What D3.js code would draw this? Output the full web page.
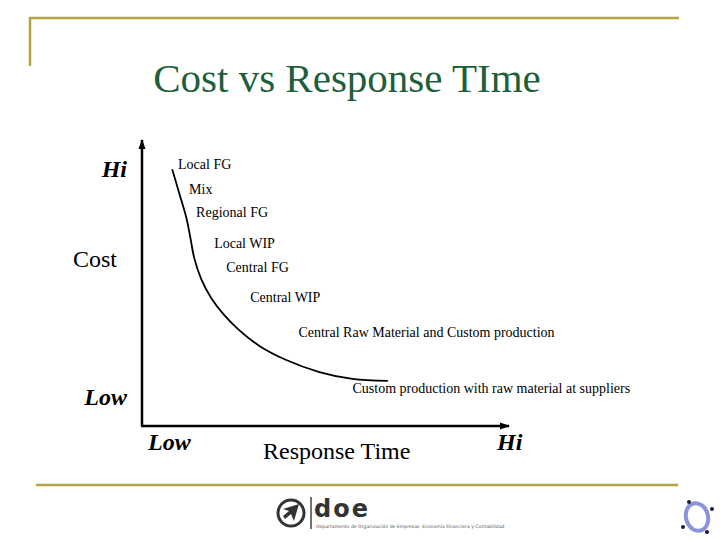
<!DOCTYPE html>
<html>
<head>
<meta charset="utf-8">
<script src="https://cdn.jsdelivr.net/npm/d3@7"></script>
<style>
  html, body { margin: 0; padding: 0; background: #ffffff; }
  svg { display: block; }
</style>
</head>
<body>
<svg id="chart" width="720" height="540"></svg>
<script>
// ---- data ----
const chartTitle = "Cost vs Response TIme";
const xAxisTitle = "Response Time";
const yAxisTitle = "Cost";
const xTickLabels = ["Low", "Hi"];
const yTickLabels = ["Low", "Hi"];
// trade-off curve (response time, cost) in 0-100 units
const curveX = [8.2, 10.1, 12.0, 13.1, 14.2, 16.1, 18.8, 22.3, 26.4, 31.9, 39.2, 48.2, 57.2, 66.8];
const curveY = [89.5, 81.2, 72.8, 65.9, 58.5, 51.2, 44.6, 38.7, 33.4, 27.9, 23.0, 18.8, 16.4, 15.7];
// strategy annotations along the curve
const strategies = ["Local FG", "Mix", "Regional FG", "Local WIP", "Central FG", "Central WIP",
  "Central Raw Material and Custom production", "Custom production with raw material at suppliers"];
const strategyX = [9.8, 12.8, 14.7, 19.6, 22.9, 29.4, 42.5, 57.2];
const strategyY = [89.5, 80.8, 72.8, 62.0, 53.7, 43.2, 31.0, 11.5];

// ---- drawing ----
const svg = d3.select("#chart");
const frame = "#b5a345";
const serif = "'Liberation Serif', 'Times New Roman', serif";

// slide frame
svg.append("line").attr("x1", 29).attr("x2", 679).attr("y1", 18).attr("y2", 18)
  .attr("stroke", frame).attr("stroke-width", 2.5);
svg.append("line").attr("x1", 30).attr("x2", 30).attr("y1", 17).attr("y2", 66)
  .attr("stroke", frame).attr("stroke-width", 2.5);
svg.append("line").attr("x1", 36).attr("x2", 678).attr("y1", 485).attr("y2", 485)
  .attr("stroke", frame).attr("stroke-width", 2.5);

// title
svg.append("text").attr("x", 347).attr("y", 92).attr("text-anchor", "middle")
  .attr("font-family", serif).attr("font-size", 41).attr("fill", "#1e5e3b")
  .text(chartTitle);

const x = d3.scaleLinear().domain([0, 100]).range([142, 510]);
const y = d3.scaleLinear().domain([0, 100]).range([426, 139]);

const defs = svg.append("defs");
defs.append("marker").attr("id", "arrow").attr("viewBox", "0 0 10 10")
  .attr("refX", 9).attr("refY", 5).attr("markerWidth", 4).attr("markerHeight", 4)
  .attr("markerUnits", "strokeWidth").attr("orient", "auto")
  .append("path").attr("d", "M0,1.5 L10,5 L0,8.5 Z").attr("fill", "#000");

// axes
svg.append("line").attr("x1", x(0)).attr("y1", y(0)).attr("x2", x(0)).attr("y2", y(100) + 1)
  .attr("stroke", "#000").attr("stroke-width", 2.5).attr("marker-end", "url(#arrow)");
svg.append("line").attr("x1", x(0) - 1).attr("y1", y(0)).attr("x2", x(100) - 1).attr("y2", y(0))
  .attr("stroke", "#000").attr("stroke-width", 2.5).attr("marker-end", "url(#arrow)");

// axis titles
svg.append("text").attr("x", 73).attr("y", 267).attr("font-family", serif)
  .attr("font-size", 24).attr("fill", "#000").text(yAxisTitle);
svg.append("text").attr("x", 263).attr("y", 459).attr("font-family", serif)
  .attr("font-size", 24).attr("fill", "#000").text(xAxisTitle);

// end labels
const yTickPos = [0, 100];
const xTickPos = [0, 100];
svg.selectAll("text.ytick").data(yTickLabels).join("text").attr("class", "ytick")
  .attr("x", 127).attr("y", (d, i) => y(yTickPos[i]) + (i === 0 ? -21 : 38))
  .attr("text-anchor", "end").attr("font-family", serif).attr("font-size", 24)
  .attr("font-weight", "bold").attr("font-style", "italic").text(d => d);
svg.selectAll("text.xtick").data(xTickLabels).join("text").attr("class", "xtick")
  .attr("x", (d, i) => x(xTickPos[i]) + (i === 0 ? 6 : -13)).attr("y", 450)
  .attr("font-family", serif).attr("font-size", 24)
  .attr("font-weight", "bold").attr("font-style", "italic").text(d => d);

// curve
const pts = curveX.map((v, i) => [v, curveY[i]]);
svg.append("path").datum(pts)
  .attr("d", d3.line().x(d => x(d[0])).y(d => y(d[1])).curve(d3.curveCatmullRom.alpha(0.5)))
  .attr("fill", "none").attr("stroke", "#000").attr("stroke-width", 1.8);

// strategy labels
svg.selectAll("text.strat").data(strategies).join("text").attr("class", "strat")
  .attr("x", (d, i) => x(strategyX[i])).attr("y", (d, i) => y(strategyY[i]))
  .attr("font-family", serif).attr("font-size", 14).attr("fill", "#000").text(d => d);

// footer logo
const logo = svg.append("g");
logo.append("circle").attr("cx", 291).attr("cy", 513).attr("r", 13)
  .attr("fill", "#fff").attr("stroke", "#333").attr("stroke-width", 3);
logo.append("path").attr("d", "M283,509 L299,504 L294,521 L291,514 L285,519 L283,516 L289,511 Z")
  .attr("fill", "#333");
logo.append("line").attr("x1", 311).attr("x2", 311).attr("y1", 497).attr("y2", 529)
  .attr("stroke", "#444").attr("stroke-width", 1.5);
logo.append("text").attr("x", 314).attr("y", 517).attr("font-family", "'DejaVu Sans', sans-serif")
  .attr("font-size", 24).attr("font-weight", "bold").attr("fill", "#333").attr("letter-spacing", 2)
  .text("doe");
logo.append("text").attr("x", 316).attr("y", 528).attr("font-family", "'DejaVu Sans', sans-serif")
  .attr("font-size", 4.6).attr("fill", "#555")
  .text("Departamento de Organización de Empresas, Economía Financiera y Contabilidad");

// corner decoration
const deco = svg.append("g");
deco.append("ellipse").attr("cx", 697).attr("cy", 517).attr("rx", 11).attr("ry", 14)
  .attr("fill", "none").attr("stroke", "#8a94dd").attr("stroke-width", 4)
  .attr("transform", "rotate(-15,697,517)");
[[689, 502], [712, 509], [683, 527], [707, 532]].forEach(p => {
  deco.append("circle").attr("cx", p[0]).attr("cy", p[1]).attr("r", 2).attr("fill", "#1a1a3a");
});
</script>
</body>
</html>
